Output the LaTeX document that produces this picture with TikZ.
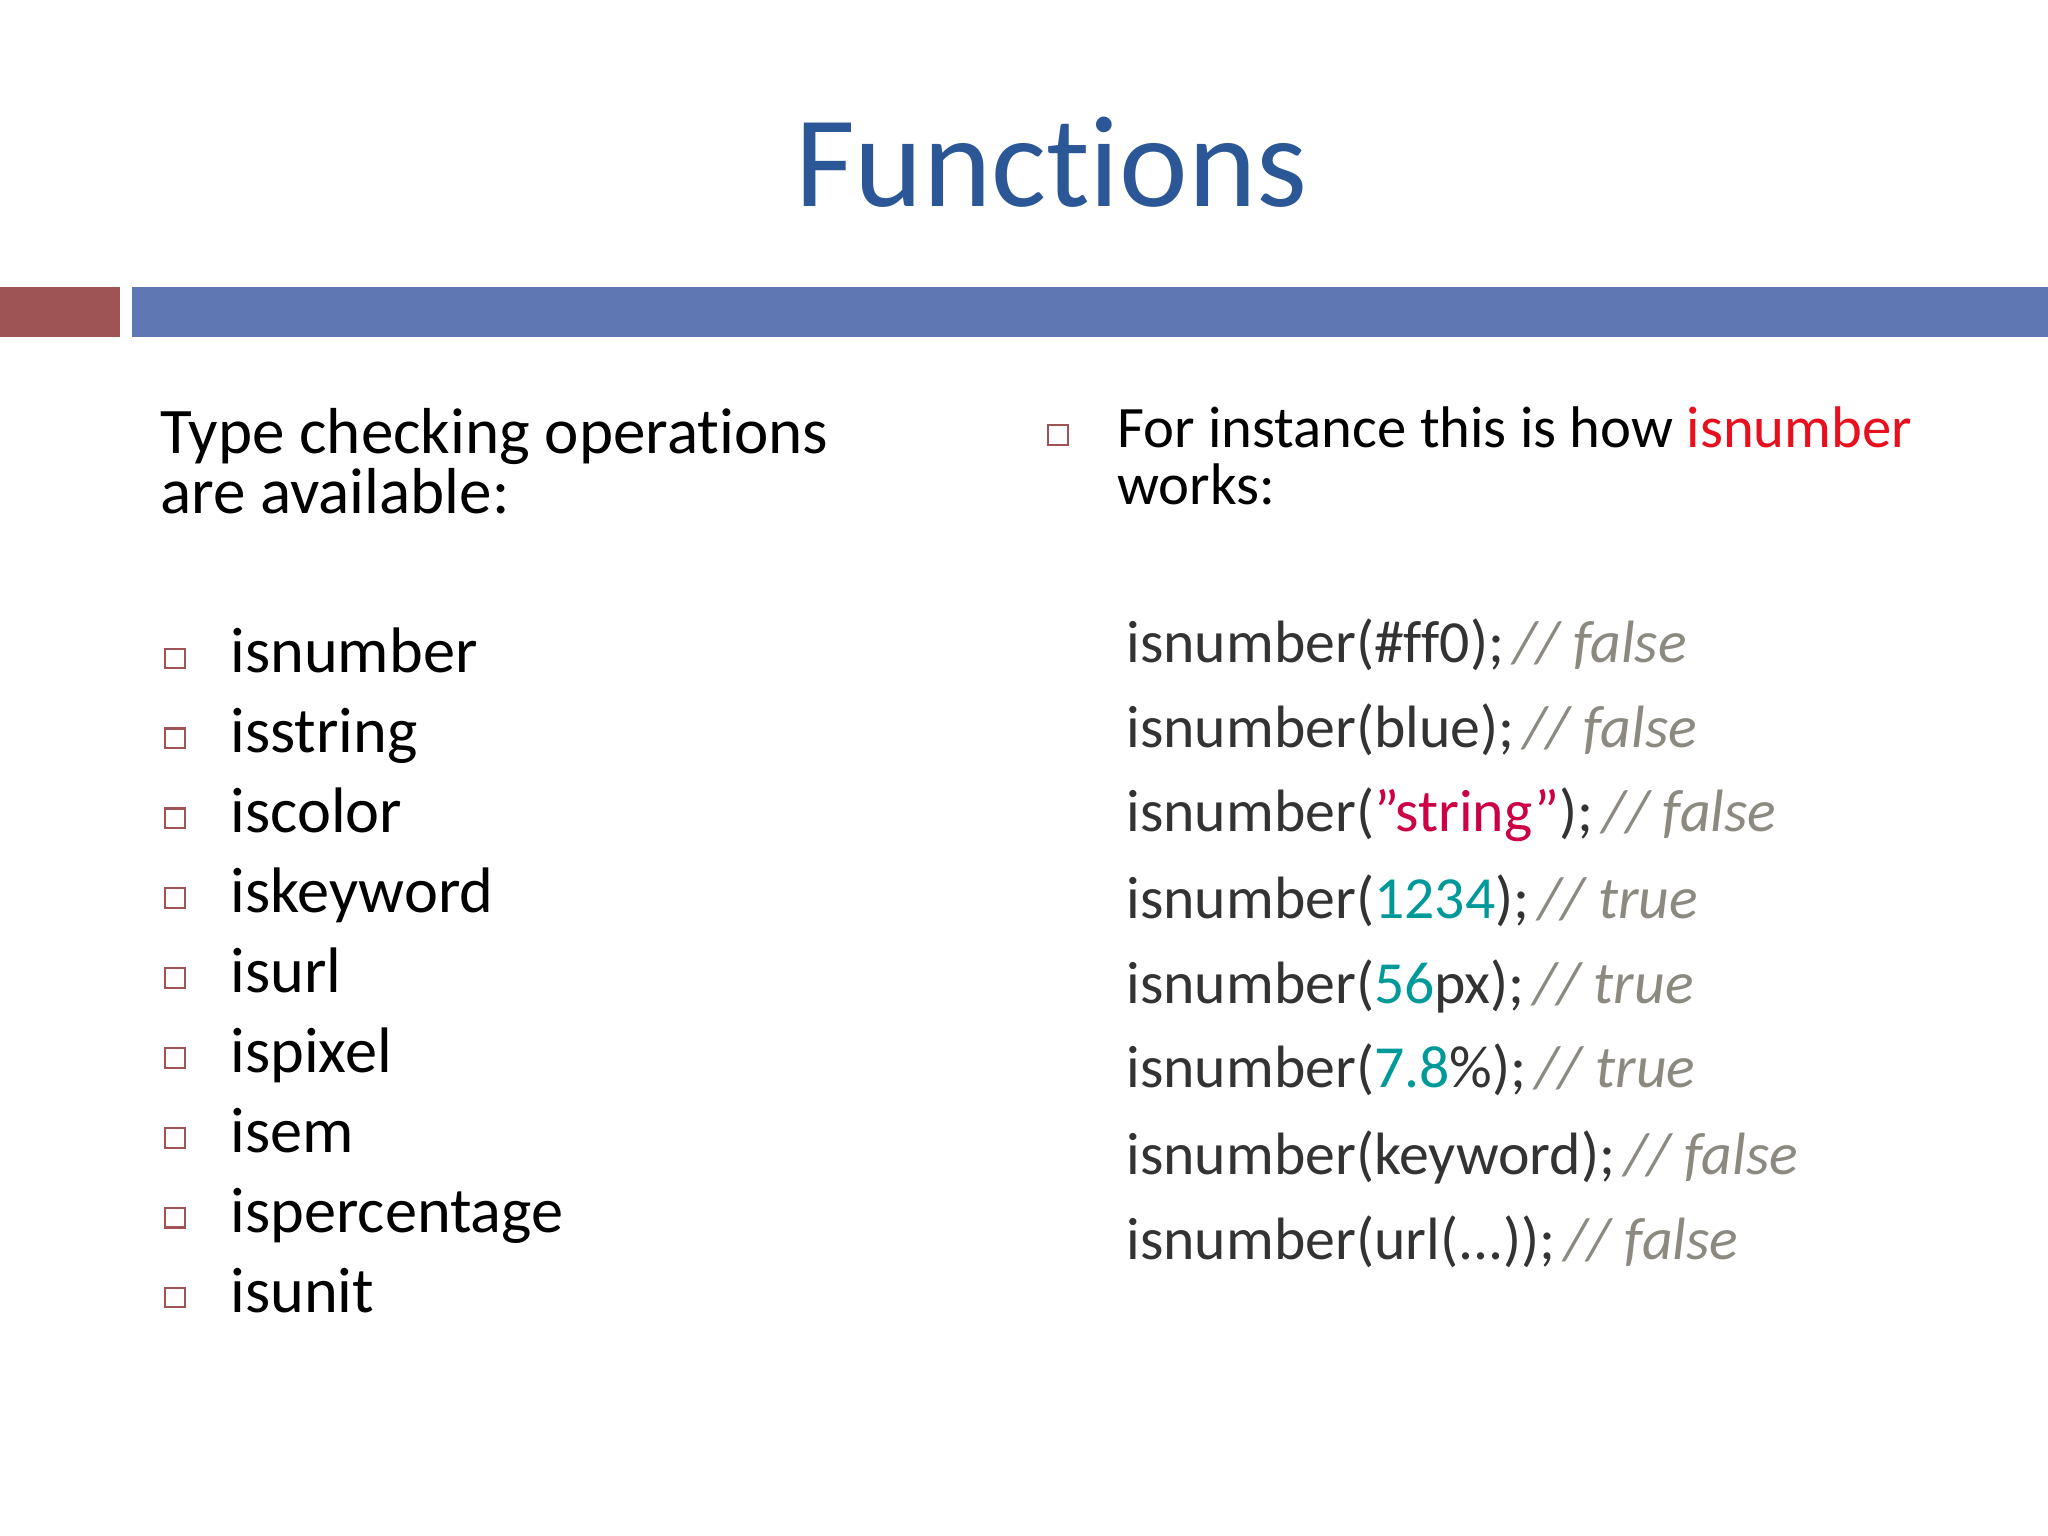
\documentclass[tikz,border=0pt]{standalone}
\usepackage{fontspec}
\setmainfont{Carlito}[Ligatures=NoCommon]
\definecolor{tblue}{HTML}{2B5797}
\definecolor{barred}{HTML}{9E5354}
\definecolor{barblue}{HTML}{5F78B3}
\definecolor{bulc}{HTML}{9E5354}
\definecolor{code}{HTML}{333333}
\definecolor{strc}{HTML}{CC0044}
\definecolor{numc}{HTML}{009999}
\definecolor{cmt}{HTML}{8C8A80}
\definecolor{isred}{HTML}{E8101E}
\begin{document}
\begin{tikzpicture}[x=0.01306cm,y=-0.01306cm,
  txt/.style={anchor=base west,inner sep=0pt,font=\fontsize{18.5}{22}\selectfont},
  cd/.style={anchor=base west,inner sep=0pt,text=code,font=\fontsize{17}{20}\selectfont},
  bul/.style={draw=bulc,line width=0.6pt,minimum size=5.5pt,inner sep=0pt}]
\useasboundingbox (0,0) rectangle (1568,1176);
\fill[white] (0,0) rectangle (1568,1176);
\node[anchor=base,inner sep=0pt,text=tblue,font=\fontsize{37}{40}\selectfont] (title) at (805,158) {Functions};
\fill[barred] (0,220) rectangle (92,258);
\fill[barblue] (101,220) rectangle (1568,258);
\node[txt] (h1) at (122,347) {Type checking operations};
\node[txt] (h2) at (122,393) {are available:};
\foreach \t [count=\i from 0] in {isnumber,isstring,iscolor,iskeyword,isurl,ispixel,isem,ispercentage,isunit}{
  \node[bul] (b\i) at (134,{504+61.2*\i}) {};
  \node[txt,font=\fontsize{18.3}{22}\selectfont] (l\i) at (176,{515+61.2*\i}) {\t};
}
\node[bul] (rb) at (810,333) {};
\node[txt,font=\fontsize{16.7}{20}\selectfont] (r1) at (855,343) {For instance this is how \textcolor{isred}{isnumber}};
\node[txt,font=\fontsize{16.7}{20}\selectfont] (r2) at (855,386) {works:};
\newcommand{\cm}[1]{\hspace{0.15em}\textcolor{cmt}{\textit{// #1}}}
\node[cd] (c0) at (862,507) {isnumber(\#ff0);\cm{false}};
\node[cd] (c1) at (862,572) {isnumber(blue);\cm{false}};
\node[cd] (c2) at (862,637) {isnumber(\textcolor{strc}{\symbol{34}string\symbol{34}});\cm{false}};
\node[cd] (c3) at (862,703) {isnumber(\textcolor{numc}{1234});\cm{true}};
\node[cd] (c4) at (862,768) {isnumber(\textcolor{numc}{56}px);\cm{true}};
\node[cd] (c5) at (862,833) {isnumber(\textcolor{numc}{7.8}\%);\cm{true}};
\node[cd] (c6) at (862,899) {isnumber(keyword);\cm{false}};
\node[cd] (c7) at (862,964) {isnumber(url(...));\cm{false}};
\end{tikzpicture}
\end{document}
